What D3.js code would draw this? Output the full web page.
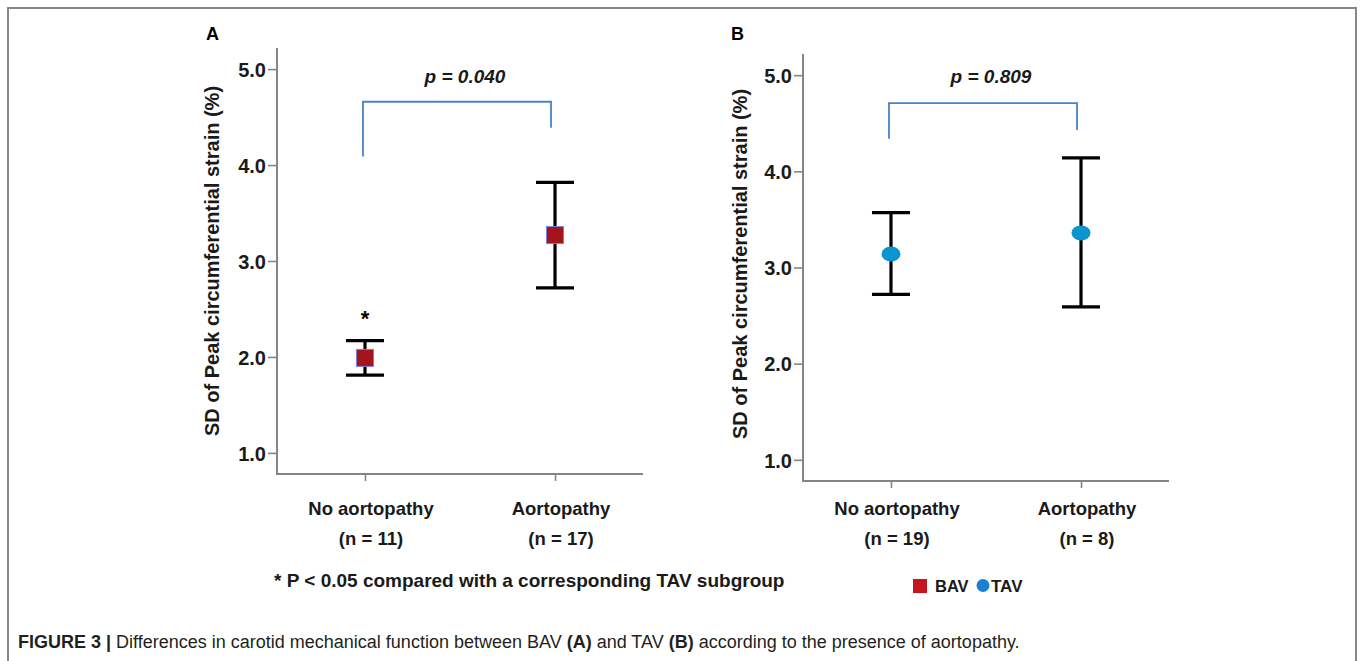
<!DOCTYPE html>
<html>
<head>
<meta charset="utf-8">
<script src="https://cdn.jsdelivr.net/npm/d3@7"></script>
<style>
  body { margin: 0; background: #fff; }
  svg { display: block; font-family: "Liberation Sans", Arial, sans-serif; }
</style>
</head>
<body>
<script>
var width = 1360, height = 661;

// data
var categories = ["No aortopathy", "Aortopathy"];
var bavN = ["(n = 11)", "(n = 17)"];
var tavN = ["(n = 19)", "(n = 8)"];
var bavMean = [1.99, 3.27];
var bavLow = [1.81, 2.72];
var bavHigh = [2.17, 3.82];
var tavMean = [3.14, 3.36];
var tavLow = [2.72, 2.59];
var tavHigh = [3.57, 4.14];
var yTicks = [1.0, 2.0, 3.0, 4.0, 5.0];
var pLabels = ["p = 0.040", "p = 0.809"];
// bracket: left leg end, top, right leg end (in axis units)
var bracketA = [4.09, 4.66, 4.39];
var bracketB = [4.34, 4.71, 4.43];

var bavColor = "#a3141b", tavColor = "#0a95d0", axisColor = "#858585", bracketColor = "#4a82c6";

var svg = d3.select("body").append("svg")
    .attr("width", width)
    .attr("height", height);

// figure frame
svg.append("path")
    .attr("d", "M8,670 L8,8 L1356,8 L1356,670")
    .style("fill", "none")
    .style("stroke", "#878787")
    .style("stroke-width", 2);

function drawPanel(p) {
    var x = d3.scalePoint().domain(categories).range([p.x0, p.x1]).padding(0.463);
    var y = d3.scaleLinear().domain([0.78, 5.22]).range([p.y0, p.y1]);
    var g = svg.append("g");

    // y axis
    var yAxis = g.append("g")
        .attr("transform", "translate(" + p.x0 + ",0)")
        .call(d3.axisLeft(y).tickValues(yTicks).tickFormat(d3.format(".1f")).tickSize(9).tickPadding(2));
    yAxis.select(".domain").remove();
    yAxis.selectAll(".tick line").style("stroke", axisColor).style("stroke-width", 1.6);
    yAxis.selectAll(".tick text")
        .style("font-size", "20px").style("font-weight", "bold").style("fill", "#1a1a1a")
        .attr("dy", "0.36em");

    // x axis
    var xAxis = g.append("g")
        .attr("transform", "translate(0," + p.y0 + ")")
        .call(d3.axisBottom(x).tickSize(7).tickFormat(""));
    xAxis.select(".domain").remove();
    xAxis.selectAll(".tick line").style("stroke", axisColor).style("stroke-width", 1.6);

    // axis lines (L shape)
    g.append("path")
        .attr("d", "M" + p.x0 + "," + p.y1 + " L" + p.x0 + "," + p.y0 + " L" + p.x1 + "," + p.y0)
        .style("fill", "none").style("stroke", axisColor).style("stroke-width", 2);

    // category labels
    categories.forEach(function(c, i) {
        g.append("text")
            .attr("x", x(c) + 6).attr("y", 515)
            .attr("text-anchor", "middle")
            .style("font-size", "18.5px").style("font-weight", "bold").style("fill", "#1a1a1a")
            .text(c);
        g.append("text")
            .attr("x", x(c) + 6).attr("y", 545)
            .attr("text-anchor", "middle")
            .style("font-size", "18.5px").style("font-weight", "bold").style("fill", "#1a1a1a")
            .text(p.n[i]);
    });

    // y label
    g.append("text")
        .attr("transform", "translate(" + p.labelX + "," + p.labelY + ") rotate(-90)")
        .attr("text-anchor", "middle")
        .style("font-size", "20px").style("font-weight", "bold").style("fill", "#1a1a1a")
        .text("SD of Peak circumferential strain (%)");

    // panel letter
    g.append("text")
        .attr("x", p.letterX).attr("y", 40)
        .style("font-size", "18px").style("font-weight", "bold")
        .text(p.letter);

    // comparison bracket
    var xl = x(categories[0]) - 2, xr = x(categories[1]) - 4;
    g.append("path")
        .attr("d", "M" + xl + "," + y(p.bracket[0]) + " L" + xl + "," + y(p.bracket[1]) +
              " L" + xr + "," + y(p.bracket[1]) + " L" + xr + "," + y(p.bracket[2]))
        .style("fill", "none").style("stroke", bracketColor).style("stroke-width", 1.8);
    g.append("text")
        .attr("x", (xl + xr) / 2 + p.pShift).attr("y", 83)
        .attr("text-anchor", "middle")
        .style("font-size", "19px").style("font-weight", "bold").style("font-style", "italic")
        .style("fill", "#1a1a1a")
        .text(p.pLabel);

    // error bars
    var rows = categories.map(function(c, i) {
        return {cat: c, mean: p.mean[i], lo: p.low[i], hi: p.high[i]};
    });
    var bars = g.append("g").selectAll(".err")
        .data(rows)
        .enter()
        .append("g");
    bars.append("line")
        .attr("x1", (d) => x(d.cat)).attr("x2", (d) => x(d.cat))
        .attr("y1", (d) => y(d.lo)).attr("y2", (d) => y(d.hi));
    bars.append("line")
        .attr("x1", (d) => x(d.cat) - 19).attr("x2", (d) => x(d.cat) + 19)
        .attr("y1", (d) => y(d.hi)).attr("y2", (d) => y(d.hi));
    bars.append("line")
        .attr("x1", (d) => x(d.cat) - 19).attr("x2", (d) => x(d.cat) + 19)
        .attr("y1", (d) => y(d.lo)).attr("y2", (d) => y(d.lo));
    bars.selectAll("line").style("stroke", "#000").style("stroke-width", 3.2);

    if (p.marker == "square") {
        bars.append("rect")
            .attr("x", (d) => x(d.cat) - 8.5).attr("y", (d) => y(d.mean) - 8.5)
            .attr("width", 17).attr("height", 17)
            .style("fill", bavColor).style("stroke", "#7b7fd8").style("stroke-width", 1);
    } else {
        bars.append("ellipse")
            .attr("cx", (d) => x(d.cat)).attr("cy", (d) => y(d.mean))
            .attr("rx", 9.5).attr("ry", 7.5)
            .style("fill", tavColor);
    }
    return {x: x, y: y, g: g};
}

var panelA = drawPanel({
    x0: 277, x1: 643, y0: 474, y1: 48,
    n: bavN, mean: bavMean, low: bavLow, high: bavHigh,
    marker: "square", letter: "A", letterX: 206,
    labelX: 219, labelY: 261,
    bracket: bracketA, pLabel: pLabels[0], pShift: 8
});
var panelB = drawPanel({
    x0: 803, x1: 1169, y0: 481, y1: 54,
    n: tavN, mean: tavMean, low: tavLow, high: tavHigh,
    marker: "circle", letter: "B", letterX: 731,
    labelX: 747, labelY: 264,
    bracket: bracketB, pLabel: pLabels[1], pShift: 8
});

// significance star over BAV no-aortopathy
panelA.g.append("text")
    .attr("x", panelA.x(categories[0])).attr("y", 326)
    .attr("text-anchor", "middle")
    .style("font-size", "22px").style("font-weight", "bold")
    .text("*");

// footnote
svg.append("text")
    .attr("x", 274).attr("y", 587)
    .style("font-size", "19px").style("font-weight", "bold").style("fill", "#1a1a1a")
    .text("* P < 0.05 compared with a corresponding TAV subgroup");

// legend
svg.append("rect").attr("x", 913).attr("y", 579).attr("width", 14).attr("height", 14).style("fill", "#c4161c");
svg.append("text").attr("x", 935).attr("y", 592)
    .style("font-size", "16.5px").style("font-weight", "bold").style("fill", "#1a1a1a").text("BAV");
svg.append("circle").attr("cx", 983).attr("cy", 585.5).attr("r", 6.5).style("fill", "#1a7fd0");
svg.append("text").attr("x", 991).attr("y", 592)
    .style("font-size", "17px").style("font-weight", "bold").style("fill", "#1a1a1a").text("TAV");

// caption
var cap = svg.append("text")
    .attr("x", 18).attr("y", 648)
    .style("font-family", "'Liberation Sans Narrow', 'Arial Narrow', sans-serif")
    .style("font-size", "18px").style("fill", "#231f20");
cap.append("tspan").style("font-weight", "bold").text("FIGURE 3 | ");
cap.append("tspan").text("Differences in carotid mechanical function between BAV ");
cap.append("tspan").style("font-weight", "bold").text("(A)");
cap.append("tspan").text(" and TAV ");
cap.append("tspan").style("font-weight", "bold").text("(B)");
cap.append("tspan").text(" according to the presence of aortopathy.");
</script>
</body>
</html>
